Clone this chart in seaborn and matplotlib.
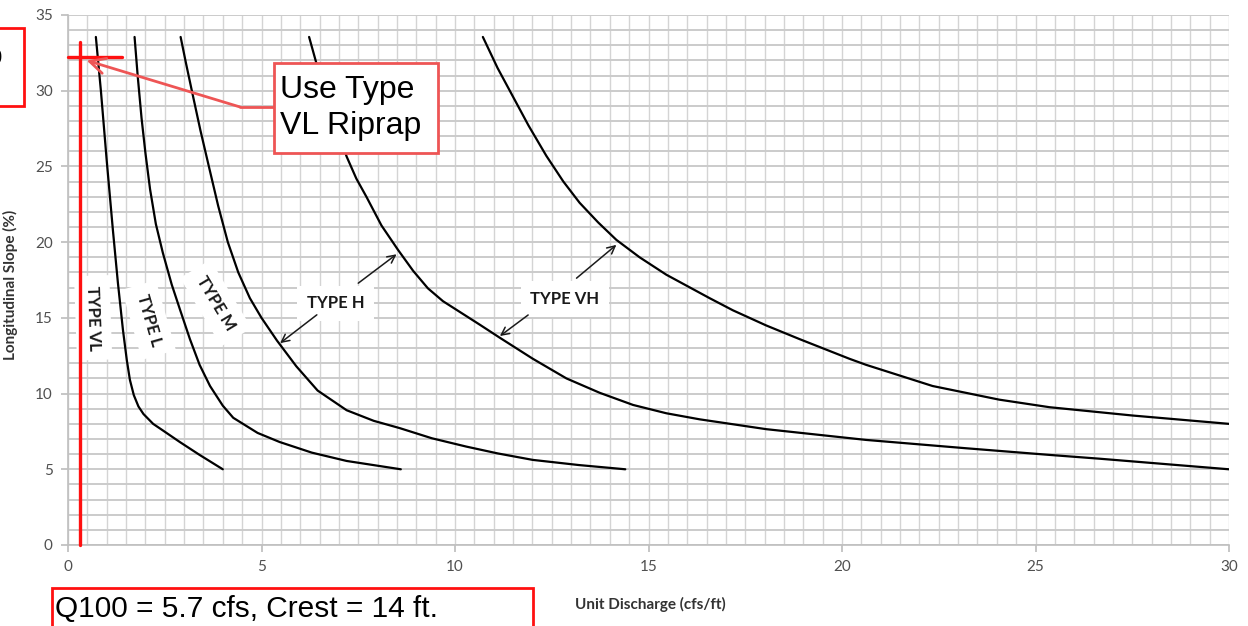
import matplotlib
matplotlib.use("Agg")
import matplotlib.pyplot as plt
from matplotlib.patches import Rectangle
from matplotlib.ticker import MultipleLocator
import pandas as pd
import seaborn as sns

# Riprap type curves: unit discharge (cfs/ft) vs longitudinal slope (%)
vl_q = [0.72, 0.85, 1.00, 1.16, 1.29, 1.42, 1.52, 1.60, 1.70, 1.82, 1.95, 2.20, 2.46, 2.89, 3.40, 4.00]
vl_s = [33.55, 30.0, 25.4, 20.8, 17.3, 14.2, 12.2, 10.9, 9.9, 9.15, 8.65, 8.0, 7.55, 6.8, 5.95, 5.00]

l_q = [1.72, 1.80, 1.90, 2.00, 2.12, 2.27, 2.45, 2.68, 2.90, 3.15, 3.40, 3.67, 4.00, 4.27,
       4.90, 5.47, 6.30, 7.20, 8.60]
l_s = [33.55, 31.0, 28.2, 25.9, 23.5, 21.2, 19.3, 17.2, 15.5, 13.6, 11.9, 10.5, 9.2, 8.4,
       7.4, 6.8, 6.1, 5.55, 5.00]

m_q = [2.91, 3.05, 3.20, 3.42, 3.64, 3.88, 4.13, 4.40, 4.70, 5.00, 5.40, 5.90, 6.45, 7.20,
       7.90, 8.57, 9.40, 10.29, 11.10, 12.01, 13.20, 14.40]
m_s = [33.55, 31.8, 30.0, 27.4, 25.0, 22.4, 20.0, 18.0, 16.3, 15.0, 13.5, 11.8, 10.2, 8.9,
       8.2, 7.72, 7.05, 6.5, 6.05, 5.62, 5.28, 5.00]

h_q = [6.23, 6.42, 6.80, 7.20, 7.45, 7.71, 8.10, 8.53, 8.92, 9.30, 9.69, 10.64, 11.15, 12.01,
       12.88, 13.74, 14.60, 15.46, 16.32, 18.04, 20.62, 23.20, 25.36, 26.65, 30.00]
h_s = [33.55, 31.8, 28.6, 25.65, 24.2, 23.0, 21.1, 19.48, 18.1, 16.95, 16.1, 14.55, 13.7, 12.3,
       11.0, 10.05, 9.25, 8.7, 8.3, 7.65, 6.94, 6.39, 5.95, 5.7, 5.00]

vh_q = [10.72, 11.10, 11.50, 11.90, 12.36, 12.80, 13.22, 13.70, 14.17, 14.77, 15.46, 16.58,
        17.18, 18.04, 18.90, 20.19, 20.62, 22.34, 24.06, 25.36, 27.51, 30.00]
vh_s = [33.55, 31.5, 29.6, 27.7, 25.7, 24.0, 22.6, 21.3, 20.15, 19.0, 17.85, 16.3,
        15.5, 14.5, 13.6, 12.3, 11.9, 10.5, 9.6, 9.1, 8.55, 8.00]

types = ["VL", "L", "M", "H", "VH"]
x_ticks = [0, 5, 10, 15, 20, 25, 30]
y_ticks = [0, 5, 10, 15, 20, 25, 30, 35]

# design point
design_q = 0.3
design_slope = 32.2

frames = []
for name, q, s in zip(types, [vl_q, l_q, m_q, h_q, vh_q], [vl_s, l_s, m_s, h_s, vh_s]):
    frames.append(pd.DataFrame({"q": q, "slope": s, "type": name}))
df = pd.concat(frames, ignore_index=True)

sns.set_theme(style="white")
plt.rcParams["font.family"] = ["Lato", "DejaVu Sans"]

W, H = 1248, 626
fig = plt.figure(figsize=(W / 100, H / 100), dpi=100)
ax = fig.add_axes([68 / W, 1 - 545 / H, (1229 - 68) / W, (545 - 15) / H])

sns.lineplot(data=df, x="q", y="slope", hue="type", units="type", estimator=None,
             sort=False, palette=["black"] * 5, legend=False, linewidth=1.6, ax=ax, zorder=4)

ax.set_xlim(0, 30)
ax.set_ylim(0, 35)
ax.set_xticks(x_ticks)
ax.set_yticks(y_ticks)
ax.xaxis.set_minor_locator(MultipleLocator(0.5))
ax.yaxis.set_minor_locator(MultipleLocator(1))
ax.xaxis.grid(True, which="both", color="#d4d4d4", linewidth=1.0)
ax.yaxis.grid(True, which="both", color="#cbcbcb", linewidth=1.4)
ax.set_axisbelow(True)
for side in ["top", "right"]:
    ax.spines[side].set_visible(False)
for side in ["left", "bottom"]:
    ax.spines[side].set_color("#bfbfbf")
    ax.spines[side].set_linewidth(1.2)
ax.tick_params(which="major", length=5, color="#bfbfbf", labelsize=11,
               labelcolor="#505050", left=True, bottom=True, pad=6)
ax.tick_params(which="minor", length=0)

ax.set_xlabel("Unit Discharge (cfs/ft)", fontsize=11, fontweight="bold", color="#333333")
ax.set_ylabel("Longitudinal Slope (%)", fontsize=11, fontweight="bold", color="#333333")
ax.xaxis.set_label_coords((650 - 68) / 1161, (545 - 597) / 530)
ax.yaxis.set_label_coords((18 - 68) / 1161, (545 - 285) / 530)

# curve labels
lab = dict(fontsize=12, fontweight="bold", color="#1a1a1a", ha="center", va="center", zorder=3,
           bbox=dict(facecolor="white", edgecolor="none", pad=7))
ax.text(0.65, 15.0, "TYPE VL", rotation=-88, **lab)
ax.text(2.09, 14.86, "TYPE L", rotation=-74, **lab)
ax.text(3.82, 15.98, "TYPE M", rotation=-59, **lab)
ax.text(6.92, 15.97, "TYPE H", **lab)
ax.text(12.84, 16.25, "TYPE VH", **lab)

arrow = dict(arrowstyle="->", color="#1a1a1a", lw=1.1, mutation_scale=14, shrinkA=0, shrinkB=0)
for start, tip in [((7.50, 17.29), (8.49, 19.2)), ((6.43, 15.2), (5.48, 13.33)),
                   ((13.14, 17.62), (14.17, 19.82)), ((11.89, 15.19), (11.16, 13.80))]:
    ax.annotate("", xy=tip, xytext=start, arrowprops=arrow, zorder=5)

# design point crosshair
ax.plot([design_q, design_q], [0, 33.2], color="#ff1010", lw=2.4, zorder=6, clip_on=False)
ax.plot([0, 1.4], [design_slope, design_slope], color="#ff1010", lw=2.4, zorder=6, clip_on=False)

# callout leader
callout = "#ee5555"
ax.plot([5.35, 4.44], [28.93, 28.93], color=callout, lw=2, zorder=6)
ax.annotate("", xy=(0.48, 32.0), xytext=(4.44, 28.93),
            arrowprops=dict(arrowstyle="->", color=callout, lw=2, mutation_scale=28,
                            shrinkA=0, shrinkB=0), zorder=6)

def fig_box(x0, y0, x1, y1, color, lw=2.0):
    fig.add_artist(Rectangle((x0 / W, 1 - y1 / H), (x1 - x0) / W, (y1 - y0) / H,
                             transform=fig.transFigure, facecolor="white",
                             edgecolor=color, linewidth=lw, zorder=10))

fig_box(274, 63, 438, 153, callout)
fig.text(280 / W, 1 - 108 / H, "Use Type\nVL Riprap", fontsize=23, family="Liberation Sans",
         color="black", ha="left", va="center", linespacing=1.22, zorder=11)

fig_box(52, 588, 533, 640, "#ff1010")
fig.text(55 / W, 1 - 609 / H, "Q100 = 5.7 cfs, Crest = 14 ft.", fontsize=21.5,
         family="Liberation Sans", color="black", ha="left", va="center", zorder=11)

fig_box(-10, 28, 24, 106, "#ff1010")
fig.text(3 / W, 1 - 64 / H, "Slop", fontsize=20, family="Liberation Sans",
         color="black", ha="right", va="baseline", zorder=11)

fig.savefig("out.png", dpi=100)
